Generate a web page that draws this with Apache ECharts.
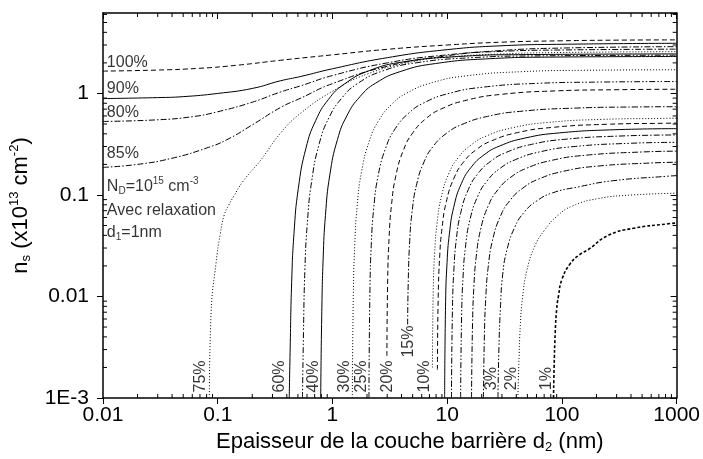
<!DOCTYPE html>
<html><head><meta charset="utf-8">
<script src="https://cdn.jsdelivr.net/npm/echarts@6/dist/echarts.min.js"></script>
<style>html,body{margin:0;padding:0;background:#fff}#c{width:703px;height:459px}</style>
</head><body><div id="c"></div><script>
const X_MIN = 0.01, X_MAX = 1000, Y_MIN = 0.001, Y_MAX = 6.2;
const xTickLabels = ['0.01', '0.1', '1', '10', '100', '1000'];
const yTickLabels = ['1E-3', '0.01', '0.1', '1'];

const c100 = [[0.01,1.66],[0.03,1.70],[0.07,1.77],[0.15,1.90],[0.35,2.12],[1,2.40],[3,2.72],[10,3.0],[30,3.2],[100,3.3],[300,3.35],[1000,3.37]];
const c90 = [[0.01,0.89],[0.03,0.91],[0.05,0.93],[0.1,1.0],[0.2,1.12],[0.35,1.33],[0.53,1.47],[1,1.75],[3,2.25],[10,2.7],[30,2.95],[100,3.05],[1000,3.12]];
const c80 = [[0.01,0.53],[0.03,0.55],[0.06,0.59],[0.1,0.66],[0.2,0.82],[0.35,1.03],[0.53,1.19],[1,1.5],[3,2.0],[10,2.4],[30,2.6],[100,2.68],[1000,2.73]];
const c85 = [[0.01,0.187],[0.02,0.2],[0.04,0.23],[0.08,0.29],[0.12,0.35],[0.2,0.49],[0.355,0.73],[0.53,0.9],[1,1.25],[3,1.85],[10,2.35],[30,2.65],[100,2.8],[1000,2.89]];
const c75 = [[0.0845,0.001],[0.0875,0.0069],[0.0967,0.0214],[0.105,0.041],[0.114,0.0635],[0.125,0.08],[0.138,0.097],[0.165,0.135],[0.238,0.222],[0.355,0.41],[0.53,0.64],[1,1.05],[2,1.55],[5,2.05],[10,2.28],[30,2.45],[100,2.53],[1000,2.58]];
const c60 = [[0.42,0.001],[0.428,0.0031],[0.441,0.0138],[0.462,0.0416],[0.504,0.116],[0.588,0.29],[0.714,0.54],[0.924,0.875],[1.26,1.23],[2.1,1.68],[4.2,2.05],[12.6,2.31],[42,2.41],[1000,2.45]];
const c50 = [[0.548,0.001],[0.559,0.0044],[0.575,0.0182],[0.603,0.0514],[0.658,0.135],[0.767,0.32],[0.932,0.576],[1.206,0.90],[1.644,1.245],[2.74,1.666],[5.48,2.01],[16.4,2.25],[54.8,2.34],[1000,2.38]];
const c40 = [[0.79,0.001],[0.806,0.0063],[0.83,0.024],[0.869,0.063],[0.948,0.157],[1.106,0.352],[1.343,0.61],[1.738,0.93],[2.37,1.26],[3.95,1.65],[7.9,1.97],[23.7,2.20],[79,2.28],[1000,2.31]];
const c30 = [[1.49,0.001],[1.52,0.0103],[1.565,0.0327],[1.639,0.0759],[1.788,0.1667],[2.086,0.336],[2.533,0.541],[3.278,0.779],[4.47,1.012],[7.45,1.281],[14.9,1.494],[44.7,1.639],[149,1.69],[1000,1.71]];
const c25 = [[2.08,0.001],[2.122,0.0117],[2.184,0.0339],[2.288,0.0737],[2.496,0.1526],[2.912,0.291],[3.536,0.452],[4.576,0.633],[6.24,0.806],[10.4,1.002],[20.8,1.155],[62.4,1.258],[208,1.294],[1000,1.31]];
const c20 = [[2.982,0.0026],[3.029,0.01455],[3.119,0.0386],[3.267,0.0787],[3.564,0.153],[4.158,0.277],[5.049,0.414],[6.534,0.565],[8.91,0.705],[14.85,0.86],[29.7,0.98],[89.1,1.06],[297,1.088],[1000,1.10]];
const c15 = [[4.522,0.0053],[4.58,0.0146],[4.715,0.0354],[4.939,0.0675],[5.388,0.1238],[6.286,0.212],[7.633,0.306],[9.878,0.405],[13.47,0.495],[22.45,0.594],[44.9,0.669],[134.7,0.718],[449,0.736],[1000,0.74]];
const c10 = [[7.436,0.002],[7.558,0.0113],[7.781,0.0273],[8.151,0.0522],[8.892,0.0957],[10.37,0.164],[12.6,0.236],[16.3,0.313],[22.23,0.383],[37.05,0.459],[74.1,0.517],[222.3,0.555],[741,0.568],[1000,0.57]];
const c9 = [[8.22,0.0019],[8.354,0.01007],[8.6,0.02447],[9.009,0.0467],[9.828,0.0857],[11.47,0.1469],[13.92,0.2117],[18.02,0.2804],[24.57,0.3427],[40.95,0.4112],[81.9,0.4626],[245.7,0.4969],[819,0.5089],[1000,0.51]];
const c8 = [[9.5,0.001],[9.69,0.0089],[9.975,0.0216],[10.45,0.0413],[11.4,0.0757],[13.3,0.1297],[16.15,0.187],[20.9,0.2477],[28.5,0.3027],[47.5,0.3632],[95,0.4086],[285,0.4389],[1000,0.45]];
const c7 = [[10.9,0.001],[11.12,0.00772],[11.45,0.01875],[11.99,0.0358],[13.08,0.0657],[15.26,0.1126],[18.53,0.1622],[23.98,0.2149],[32.7,0.2627],[54.5,0.3152],[109,0.3546],[327,0.3809],[1000,0.39]];
const c6 = [[13.1,0.001],[13.36,0.00655],[13.76,0.0159],[14.41,0.0304],[15.72,0.0557],[18.34,0.0954],[22.27,0.1375],[28.82,0.1822],[39.3,0.2227],[65.5,0.2672],[131,0.3006],[393,0.3229],[1000,0.33]];
const c5 = [[16.3,0.001],[16.63,0.00537],[17.12,0.01304],[17.93,0.0249],[19.56,0.0457],[22.82,0.0783],[27.71,0.1128],[35.86,0.1495],[48.9,0.1827],[81.5,0.2192],[163,0.2466],[489,0.2649],[1000,0.27]];
const c4 = [[20.7,0.001],[21.11,0.00419],[21.74,0.01019],[22.77,0.01945],[24.84,0.0357],[28.98,0.0611],[35.19,0.0881],[45.54,0.1167],[62.1,0.1427],[103.5,0.1712],[207,0.1926],[621,0.2069],[1000,0.21]];
const c3 = [[27.7,0.001],[28.25,0.00312],[29.09,0.00757],[30.47,0.0165],[33.24,0.0290],[38.78,0.0480],[47.09,0.0680],[60.94,0.0880],[83.1,0.105],[138.5,0.120],[277,0.138],[831,0.1530],[1000,0.155]];
const c2 = [[41.3,0.001],[42.13,0.00213],[43.37,0.00516],[45.43,0.00986],[49.56,0.0181],[57.82,0.031],[70.21,0.0447],[90.86,0.062],[123.9,0.078],[206.5,0.092],[413,0.100],[1000,0.104]];
const c1 = [[84.5,0.001],[85.5,0.002],[87.5,0.0045],[90,0.0075],[93.3,0.0101],[100,0.0147],[118,0.021],[143.7,0.026],[170,0.029],[253.5,0.040],[422.5,0.047],[845,0.052],[1000,0.053]];

const curveData = { '100%':c100,'90%':c90,'80%':c80,'85%':c85,'75%':c75,'60%':c60,'50%':c50,'40%':c40,'30%':c30,'25%':c25,'20%':c20,'15%':c15,'10%':c10,'9%':c9,'8%':c8,'7%':c7,'6%':c6,'5%':c5,'4%':c4,'3%':c3,'2%':c2,'1%':c1 };

const dashes = { solid:'solid', dash:[5,3], dot:[1,2], dashdot:[6,2,1.5,2], dashdotdot:[6,2,1.5,2,1.5,2], shortdash:[3,2] };
const curveStyle = { '100%':'dash','90%':'solid','80%':'dashdot','85%':'dashdot','75%':'dot','60%':'solid','50%':'dashdotdot','40%':'solid','30%':'dot','25%':'dashdotdot','20%':'dash','15%':'dashdot','10%':'dot','9%':'dash','8%':'solid','7%':'dashdot','6%':'dashdotdot','5%':'dashdot','4%':'dashdot','3%':'dashdotdot','2%':'dot','1%':'shortdash' };

// text labels: [text, x, y, kind]
const pctLabels = [
  ['100%',0.0107,2.02,'h'],['90%',0.0107,1.11,'h'],['80%',0.0107,0.652,'h'],['85%',0.0107,0.255,'h'],
  ['75%',0.0702,0.00163,'v'],['60%',0.348,0.00163,'v'],['40%',0.681,0.00163,'v'],['30%',1.267,0.00163,'v'],
  ['25%',1.78,0.00163,'v'],['20%',3.05,0.00163,'v'],['15%',4.61,0.0036,'v'],['10%',6.35,0.00163,'v'],
  ['3%',24.3,0.00155,'v'],['2%',36.6,0.00155,'v'],['1%',73.0,0.00155,'v']
];
const noteLines = [
  ['{a|N}{s|D}{a|=10}{p|15}{a| cm}{p|-3}', 0.0107, 0.121],
  ['{a|Avec relaxation}', 0.0107, 0.070],
  ['{a|d}{s|1}{a|=1nm}', 0.0107, 0.0426]
];

const FONT = 'Arial, "Liberation Sans", Helvetica, sans-serif';
const richText = {
  a: { fontSize: 16, fontFamily: FONT, color: '#000' },
  s: { fontSize: 10, fontFamily: FONT, color: '#000', padding: [9, 0, 0, 0] },
  p: { fontSize: 10, fontFamily: FONT, color: '#000', padding: [0, 0, 10, 0] }
};

function decadeIndex(v) {
  const e = Math.log10(v), r = Math.round(e);
  return Math.abs(e - r) < 1e-6 ? r : null;
}
function minorVals(lo, hi) {
  const out = [];
  for (let e = Math.floor(Math.log10(lo)); e < Math.ceil(Math.log10(hi)); e++) {
    for (let k = 2; k <= 9; k++) { const t = k * Math.pow(10, e); if (t > lo * 1.0001 && t < hi * 0.97) out.push(t); }
  }
  return out;
}

const chart = echarts.init(document.getElementById('c'), null, { renderer: 'canvas' });

const series = Object.keys(curveData).map(name => ({
  name, type: 'line', data: curveData[name], showSymbol: false, symbol: 'none',
  smooth: 0.5, silent: true,
  lineStyle: { color: '#000', width: name === '1%' ? 1.6 : 1, type: dashes[curveStyle[name]] }
}));

series.push({
  type: 'scatter', silent: true, symbolSize: 1, itemStyle: { color: 'rgba(0,0,0,0)' },
  data: pctLabels.map(l => ({
    value: [l[1], l[2]],
    label: l[3] === 'h'
      ? { show: true, formatter: l[0], position: 'right', distance: 0, fontSize: 16, fontFamily: FONT, color: '#000' }
      : { show: true, formatter: l[0], position: 'inside', rotate: 90, fontSize: 16, fontFamily: FONT, color: '#000' }
  }))
});
series.push({
  type: 'scatter', silent: true, symbolSize: 1, itemStyle: { color: 'rgba(0,0,0,0)' },
  data: noteLines.map(l => ({
    value: [l[1], l[2]],
    label: { show: true, formatter: l[0], position: 'right', distance: 0, rich: richText }
  }))
});

const xMinor = minorVals(X_MIN, X_MAX);
const yMinor = minorVals(Y_MIN, Y_MAX);
function tickLine(x1, y1, x2, y2) {
  return { type: 'line', shape: { x1, y1, x2, y2 }, style: { stroke: '#000', lineWidth: 1 } };
}
series.push({
  type: 'custom', silent: true, clip: false, z: 10,
  data: xMinor.map(v => [v, 1]), encode: { x: 0, y: 1 },
  renderItem: (p, api) => {
    const v = api.value(0);
    const b = api.coord([v, Y_MIN]), t = api.coord([v, Y_MAX]);
    return { type: 'group', children: [tickLine(b[0], b[1], b[0], b[1] - 4), tickLine(t[0], t[1], t[0], t[1] + 4)] };
  }
});
series.push({
  type: 'custom', silent: true, clip: false, z: 10,
  data: yMinor.map(v => [1, v]), encode: { x: 0, y: 1 },
  renderItem: (p, api) => {
    const v = api.value(1);
    const l = api.coord([X_MIN, v]), r = api.coord([X_MAX, v]);
    return { type: 'group', children: [tickLine(l[0], l[1], l[0] + 4, l[1]), tickLine(r[0], r[1], r[0] - 4, r[1])] };
  }
});

const axisLine = { show: true, lineStyle: { color: '#000', width: 1.5 } };
chart.setOption({
  animation: false,
  backgroundColor: '#fff',
  grid: { left: 102, right: 26, top: 13, bottom: 61 },
  xAxis: [{
    type: 'log', logBase: 10, min: X_MIN, max: X_MAX, position: 'bottom',
    axisLine, splitLine: { show: false },
    axisTick: { show: true, inside: false, length: 6, lineStyle: { color: '#000', width: 1 } },
    axisLabel: {
      fontSize: 21, fontFamily: FONT, color: '#000', margin: 7,
      formatter: v => { const d = decadeIndex(v); return d === null ? '' : (xTickLabels[d + 2] || ''); }
    },
    name: '{a|Epaisseur de la couche barrière d}{s|2}{a| (nm)}', nameLocation: 'middle', nameGap: 30,
    nameTextStyle: { padding: [0, 0, 0, 40], rich: {
      a: { fontSize: 22, fontFamily: FONT, color: '#000' },
      s: { fontSize: 13, fontFamily: FONT, color: '#000', padding: [11, 0, 0, 0] }
    } }
  }, {
    type: 'log', logBase: 10, min: X_MIN, max: X_MAX, position: 'top',
    axisLine, splitLine: { show: false }, axisLabel: { show: false },
    axisTick: { show: true, inside: true, length: 6, lineStyle: { color: '#000', width: 1 } }
  }],
  yAxis: [{
    type: 'log', logBase: 10, min: Y_MIN, max: Y_MAX, position: 'left',
    axisLine, splitLine: { show: false },
    axisTick: { show: true, inside: false, length: 6, lineStyle: { color: '#000', width: 1 } },
    axisLabel: {
      fontSize: 21, fontFamily: FONT, color: '#000', margin: 14, showMaxLabel: false,
      formatter: v => { const d = decadeIndex(v); return d === null ? '' : (yTickLabels[d + 3] || ''); }
    },
    name: '{a|n}{s|s}{a| (x10}{p|13}{a| cm}{p|-2}{a|)}', nameLocation: 'middle', nameGap: 70, nameRotate: 90,
    nameTextStyle: { rich: {
      a: { fontSize: 22, fontFamily: FONT, color: '#000' },
      s: { fontSize: 13, fontFamily: FONT, color: '#000', padding: [11, 0, 0, 0] },
      p: { fontSize: 13, fontFamily: FONT, color: '#000', padding: [0, 0, 12, 0] }
    } }
  }, {
    type: 'log', logBase: 10, min: Y_MIN, max: Y_MAX, position: 'right',
    axisLine, splitLine: { show: false }, axisLabel: { show: false },
    axisTick: { show: true, inside: true, length: 6, lineStyle: { color: '#000', width: 1 } }
  }],
  series
});
</script></body></html>
